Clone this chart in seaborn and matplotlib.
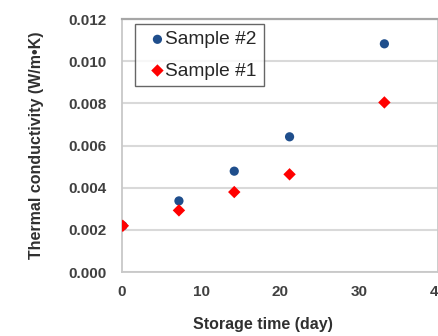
import matplotlib
matplotlib.use("Agg")
import matplotlib.pyplot as plt
import seaborn as sns
import pandas as pd

# Storage time (days) and measured thermal conductivity (W/m·K)
days_s2 = [0.1, 7.2, 14.2, 21.2, 33.2]
k_s2 = [0.0022, 0.00338, 0.00479, 0.00642, 0.01083]
days_s1 = [0.1, 7.2, 14.2, 21.2, 33.2]
k_s1 = [0.0022, 0.00293, 0.0038, 0.00464, 0.00805]

series_names = ["Sample #2", "Sample #1"]
series_colors = {"Sample #2": "#1f4e8c", "Sample #1": "#ff0000"}
series_markers = {"Sample #2": "o", "Sample #1": "D"}

xticks = [0, 10, 20, 30, 40]
yticks = [0.000, 0.002, 0.004, 0.006, 0.008, 0.010, 0.012]

df = pd.concat([
    pd.DataFrame({"day": days_s2, "k": k_s2, "sample": series_names[0]}),
    pd.DataFrame({"day": days_s1, "k": k_s1, "sample": series_names[1]}),
], ignore_index=True)

sns.set_theme(style="white")
plt.rcParams["font.family"] = ["Liberation Sans", "DejaVu Sans"]

fig = plt.figure(figsize=(4.39, 3.36), dpi=100)
ax = fig.add_axes([0.278, 0.190, 0.720, 0.753])

for name in series_names:
    sub = df[df["sample"] == name]
    sns.scatterplot(data=sub, x="day", y="k", ax=ax, color=series_colors[name],
                    marker=series_markers[name], s=44 if name == "Sample #2" else 40,
                    edgecolor="none", label=name, zorder=3)

ax.set_xlim(0, 40)
ax.set_ylim(0, 0.012)
ax.set_xticks(xticks)
ax.set_yticks(yticks)
ax.set_xticklabels([f"{t}" for t in xticks])
ax.set_yticklabels([f"{t:.3f}" for t in yticks])
ax.tick_params(axis="both", length=0, labelsize=11, colors="#404040")
ax.tick_params(axis="y", pad=11)
ax.tick_params(axis="x", pad=9)
for lab in ax.get_xticklabels() + ax.get_yticklabels():
    lab.set_fontweight("bold")

ax.yaxis.grid(True, color="#d9d9d9", linewidth=1.5)
ax.xaxis.grid(False)
ax.set_axisbelow(True)
for side in ["left", "bottom", "right"]:
    ax.spines[side].set_color("#c8c8c8")
    ax.spines[side].set_linewidth(1.3)
ax.spines["top"].set_color("#a6a6a6")
ax.spines["top"].set_linewidth(1.6)

ax.set_xlabel("Storage time (day)", fontsize=11.5, fontweight="bold", color="#303030",
              labelpad=13.5, x=0.446)
ax.set_ylabel("Thermal conductivity (W/m\u2022K)", fontsize=11.5, fontweight="bold",
              color="#303030", labelpad=18)

leg = ax.legend(loc="upper left", bbox_to_anchor=(0.041, 0.98), frameon=True, fancybox=False,
                fontsize=13.8, handletextpad=-0.4, handlelength=1.64, borderpad=0.35,
                labelspacing=0.72, borderaxespad=0.0)
leg.get_frame().set_edgecolor("#404040")
leg.get_frame().set_linewidth(1.0)
for t in leg.get_texts():
    t.set_color("#262626")

fig.savefig("out.png", dpi=100)
